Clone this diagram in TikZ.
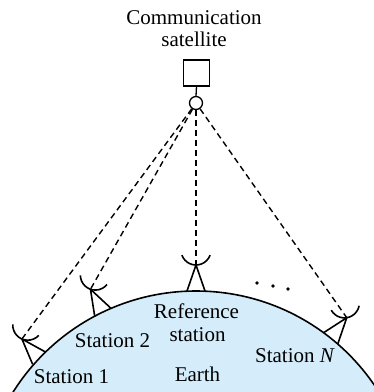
\documentclass[tikz,border=0pt]{standalone}
\usepackage{fontspec}
\setmainfont{Liberation Serif}
\usetikzlibrary{calc}
\definecolor{earthblue}{RGB}{213,237,250}
\tikzset{
  labeltext/.style={font=\fontsize{21}{24}\selectfont, anchor=base, inner sep=0pt},
  link/.style={dash pattern=on 6pt off 4pt, line width=1.4pt},
  mast/.style={line width=1.6pt, line join=round},
  dotmark/.style={circle, fill, minimum size=3.6pt, inner sep=0pt},
  tripod/.pic={\draw[mast] (-9,0) -- (0,26) -- (9,0); \coordinate (-apex) at (0,26);},
  dish/.pic={\draw[mast] (-14.095,9.870) arc[start angle=200, end angle=340, radius=15pt];},
}
\begin{document}
\begin{tikzpicture}[x=1pt,y=1pt]
\useasboundingbox (0,0) rectangle (374,392);
\coordinate (E) at (196,-115);
% Earth
\begin{scope}
  \clip (0,0) rectangle (374,392);
  \draw[fill=earthblue, line width=1.6pt] (E) circle[radius=216pt];
\end{scope}

% satellite
\node[draw, line width=1.3pt, minimum size=26pt, inner sep=0pt] (satbox) at (196.5,319) {};
\node[draw, circle, line width=1.3pt, minimum size=13pt, inner sep=0pt] (satdish) at (196,289) {};
\draw[line width=1.3pt] (satbox.south) -- (satdish.north);
\node[labeltext] (title1) at (194,367) {Communication};
\node[labeltext] (title2) at (194,345) {satellite};

% earth stations: tripods standing on the surface
\pic[rotate=42]  (st1) at ($(E)+(136.5:216pt)$) {tripod};
\pic[rotate=28]  (st2) at ($(E)+(115.6:216pt)$) {tripod};
\pic[rotate=0]   (ref) at ($(E)+(90:216pt)$)    {tripod};
\pic[rotate=-38] (stN) at ($(E)+(51.4:216pt)$)  {tripod};

% links to the satellite
\draw[link] (satdish) -- (st1-apex);
\draw[link] (satdish) -- (st2-apex);
\draw[link] (satdish) -- (ref-apex);
\draw[link] (satdish) -- (stN-apex);

% dishes
\pic[rotate=-23] (d1) at (st1-apex) {dish};
\pic[rotate=-19] (d2) at (st2-apex) {dish};
\pic[rotate=0]   (dr) at (ref-apex) {dish};
\pic[rotate=9]   (dN) at (stN-apex) {dish};

% ellipsis for the remaining stations
\node[dotmark] (dot1) at (257,109) {};
\node[dotmark] (dot2) at (273,106) {};
\node[dotmark] (dot3) at (288,103) {};

% labels
\node[labeltext] (lab1)  at (71.5,9)   {Station 1};
\node[labeltext] (lab2)  at (112.5,45) {Station 2};
\node[labeltext] (labr1) at (196.5,74) {Reference};
\node[labeltext] (labr2) at (197.5,50) {station};
\node[labeltext] (labe)  at (197.5,10) {Earth};
\node[labeltext] (labN)  at (295,30)   {Station \textit{N}};
\end{tikzpicture}
\end{document}
